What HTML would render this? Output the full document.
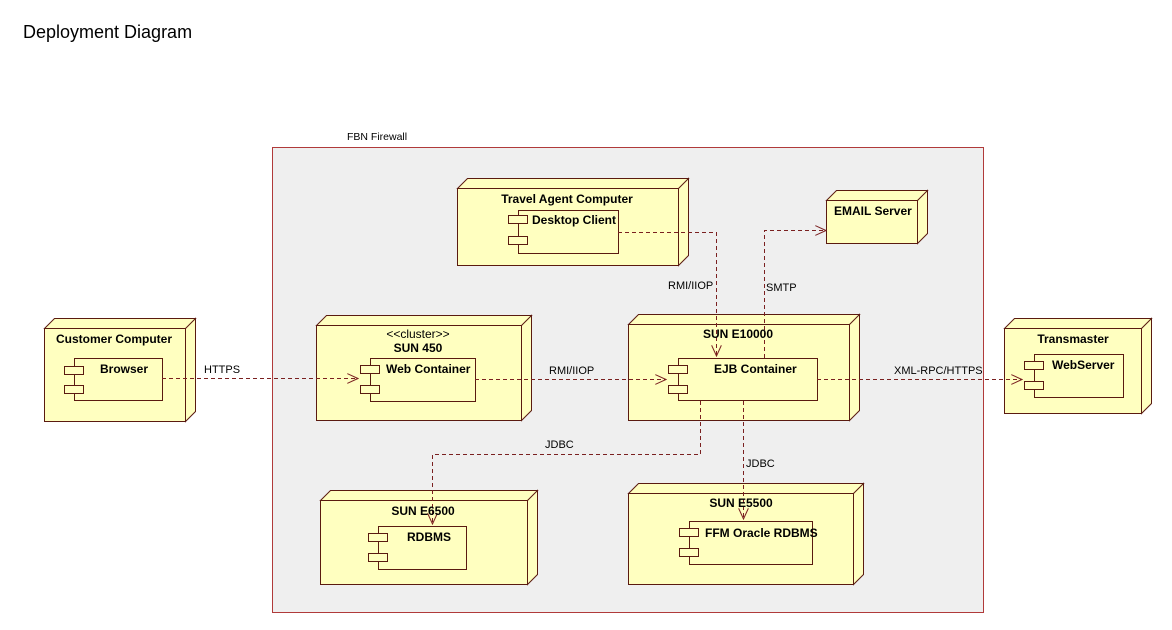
<!DOCTYPE html><html><head><meta charset="utf-8"><style>body{margin:0;background:#fff}svg{display:block}text{font-family:"Liberation Sans",sans-serif;font-size:12px;fill:#000}.b{font-weight:bold}.s{font-size:11px}</style></head><body>
<svg width="1172" height="630" xmlns="http://www.w3.org/2000/svg">
<defs><marker id="a" markerWidth="12" markerHeight="10" refX="11" refY="5" orient="auto" markerUnits="userSpaceOnUse"><path d="M0,0 L11,5 L0,10" fill="none" stroke="#7a2020" stroke-width="1"/></marker></defs>
<text x="23" y="38" style="font-size:18px">Deployment Diagram</text>
<rect x="272.5" y="147.5" width="711" height="465" fill="#efefef" stroke="#b03a3a"/>
<text x="347" y="140" style="font-size:10.5px">FBN Firewall</text>
<g stroke="#5a1a10" stroke-width="1" fill="#ffffc0">
<path d="M457.5,188.5 L467.5,178.5 L688.5,178.5 L678.5,188.5Z M678.5,188.5 L688.5,178.5 L688.5,255.5 L678.5,265.5Z"/><rect x="457.5" y="188.5" width="221" height="77"/>
<rect x="518.5" y="210.5" width="100" height="43"/><rect x="508.5" y="215.5" width="19" height="8"/><rect x="508.5" y="236.5" width="19" height="8"/>
<path d="M826.5,200.5 L836.5,190.5 L927.5,190.5 L917.5,200.5Z M917.5,200.5 L927.5,190.5 L927.5,233.5 L917.5,243.5Z"/><rect x="826.5" y="200.5" width="91" height="43"/>
<path d="M44.5,328.5 L54.5,318.5 L195.5,318.5 L185.5,328.5Z M185.5,328.5 L195.5,318.5 L195.5,411.5 L185.5,421.5Z"/><rect x="44.5" y="328.5" width="141" height="93"/>
<rect x="74.5" y="358.5" width="88" height="42"/><rect x="64.5" y="366.5" width="19" height="8"/><rect x="64.5" y="385.5" width="19" height="8"/>
<path d="M316.5,325.5 L326.5,315.5 L531.5,315.5 L521.5,325.5Z M521.5,325.5 L531.5,315.5 L531.5,410.5 L521.5,420.5Z"/><rect x="316.5" y="325.5" width="205" height="95"/>
<rect x="370.5" y="358.5" width="105" height="43"/><rect x="360.5" y="365.5" width="19" height="8"/><rect x="360.5" y="385.5" width="19" height="8"/>
<path d="M628.5,324.5 L638.5,314.5 L859.5,314.5 L849.5,324.5Z M849.5,324.5 L859.5,314.5 L859.5,410.5 L849.5,420.5Z"/><rect x="628.5" y="324.5" width="221" height="96"/>
<rect x="678.5" y="358.5" width="139" height="42"/><rect x="668.5" y="365.5" width="19" height="8"/><rect x="668.5" y="385.5" width="19" height="8"/>
<path d="M1004.5,328.5 L1014.5,318.5 L1151.5,318.5 L1141.5,328.5Z M1141.5,328.5 L1151.5,318.5 L1151.5,403.5 L1141.5,413.5Z"/><rect x="1004.5" y="328.5" width="137" height="85"/>
<rect x="1034.5" y="354.5" width="89" height="43"/><rect x="1024.5" y="361.5" width="19" height="8"/><rect x="1024.5" y="381.5" width="19" height="8"/>
<path d="M320.5,500.5 L330.5,490.5 L537.5,490.5 L527.5,500.5Z M527.5,500.5 L537.5,490.5 L537.5,574.5 L527.5,584.5Z"/><rect x="320.5" y="500.5" width="207" height="84"/>
<rect x="378.5" y="526.5" width="88" height="43"/><rect x="368.5" y="533.5" width="19" height="8"/><rect x="368.5" y="553.5" width="19" height="8"/>
<path d="M628.5,493.5 L638.5,483.5 L863.5,483.5 L853.5,493.5Z M853.5,493.5 L863.5,483.5 L863.5,574.5 L853.5,584.5Z"/><rect x="628.5" y="493.5" width="225" height="91"/>
<rect x="689.5" y="521.5" width="123" height="43"/><rect x="679.5" y="528.5" width="19" height="8"/><rect x="679.5" y="548.5" width="19" height="8"/>
</g>
<g stroke="#7a2020" fill="none" stroke-dasharray="4,3">
<path d="M162,378.5 H358" marker-end="url(#a)"/>
<path d="M475,379.5 H666" marker-end="url(#a)"/>
<path d="M817,379.5 H1022" marker-end="url(#a)"/>
<path d="M618,232.5 H716.5 V356" marker-end="url(#a)"/>
<path d="M764.5,358 V230.5 H826" marker-end="url(#a)"/>
<path d="M700.5,401 V454.5 H432.5 V524" marker-end="url(#a)"/>
<path d="M743.5,401 V519" marker-end="url(#a)"/>
</g>
<text class="b" x="567" y="203" text-anchor="middle">Travel Agent Computer</text>
<text class="b" x="532" y="224">Desktop Client</text>
<text class="b" x="834" y="215">EMAIL Server</text>
<text class="b" x="114" y="343" text-anchor="middle">Customer Computer</text>
<text class="b" x="100" y="373">Browser</text>
<text x="418" y="338" text-anchor="middle">&lt;&lt;cluster&gt;&gt;</text>
<text class="b" x="418" y="352" text-anchor="middle">SUN 450</text>
<text class="b" x="386" y="373">Web Container</text>
<text class="b" x="738" y="338" text-anchor="middle">SUN E10000</text>
<text class="b" x="714" y="373">EJB Container</text>
<text class="b" x="1073" y="343" text-anchor="middle">Transmaster</text>
<text class="b" x="1052" y="369">WebServer</text>
<text class="b" x="423" y="515" text-anchor="middle">SUN E6500</text>
<text class="b" x="407" y="541">RDBMS</text>
<text class="b" x="741" y="507" text-anchor="middle">SUN E5500</text>
<text class="b" x="705" y="537">FFM Oracle RDBMS</text>
<text class="s" x="204" y="373">HTTPS</text>
<text class="s" x="549" y="374">RMI/IIOP</text>
<text class="s" x="668" y="289">RMI/IIOP</text>
<text class="s" x="766" y="291">SMTP</text>
<text class="s" x="894" y="374">XML-RPC/HTTPS</text>
<text class="s" x="545" y="448">JDBC</text>
<text class="s" x="746" y="467">JDBC</text>
</svg></body></html>
